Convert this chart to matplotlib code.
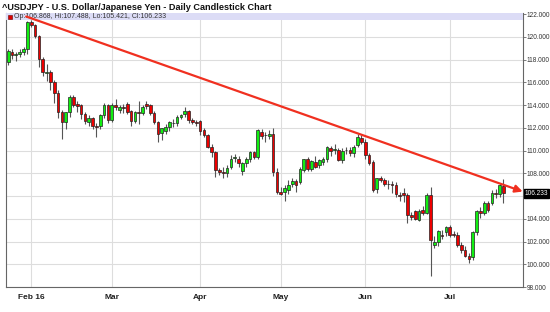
import numpy as np
import pandas as pd
import matplotlib
matplotlib.use('Agg')
import matplotlib.pyplot as plt
from matplotlib.patches import Rectangle
import matplotlib.transforms as mtransforms

plt.rcParams['font.family'] = ['Liberation Sans', 'DejaVu Sans']

# trading days shown on the chart
dates = pd.bdate_range('2016-01-22', '2016-07-21')

opens = [117.8, 118.7, 118.4, 118.5, 118.65, 118.9, 121.3, 121.05, 120.1, 118.1,
         116.8, 116.9, 116.0, 115.1, 113.4, 112.5, 113.4, 114.7, 114.1, 114.0,
         113.2, 112.5, 112.9, 112.2, 112.2, 113.1, 114.0, 112.7, 114.0, 113.6,
         113.8, 114.1, 113.5, 112.6, 113.4, 113.3, 114.1, 114.0, 113.3, 112.5,
         111.55, 111.7, 112.1, 112.45, 112.4, 113.0, 113.2, 113.5, 112.7, 112.5,
         112.6, 111.8, 111.4, 110.3, 109.9, 108.3, 108.1, 108.05, 108.6, 109.35,
         109.3, 108.2, 108.9, 109.3, 109.9, 109.4, 111.6, 111.35, 111.3, 111.45,
         108.1, 106.4, 106.4, 106.5, 107.05, 107.3, 107.25, 108.3, 109.3, 108.4,
         109.0, 108.7, 109.0, 109.3, 110.2, 110.1, 110.1, 109.2, 110.05, 110.1,
         109.75, 110.5, 111.15, 110.8, 109.6, 109.0, 106.6, 107.55, 107.4, 107.1,
         107.1, 107.0, 106.1, 106.3, 106.1, 104.3, 104.7, 103.9, 104.8, 104.5,
         106.1, 101.7, 102.0, 102.6, 102.85, 103.25, 102.65, 102.6, 101.7, 101.25,
         100.7, 100.6, 102.8, 104.7, 104.5, 105.35, 105.4, 106.25, 106.2, 106.868]
highs = [118.9, 118.9, 118.7, 118.9, 119.1, 121.4, 121.5, 121.1, 120.2, 118.2,
         117.6, 117.1, 116.2, 115.3, 113.6, 113.4, 114.9, 114.9, 114.4, 114.1,
         113.4, 113.1, 113.0, 112.4, 113.2, 114.2, 114.1, 114.2, 114.5, 114.0,
         114.1, 114.3, 113.6, 113.5, 114.4, 114.0, 114.4, 114.1, 113.5, 112.6,
         112.0, 112.3, 112.6, 112.8, 113.1, 113.2, 113.8, 113.6, 112.9, 112.7,
         112.7, 112.0, 111.5, 110.6, 110.0, 108.5, 108.6, 108.7, 109.6, 109.7,
         109.5, 109.0, 109.4, 110.0, 110.0, 111.9, 111.9, 111.6, 111.8, 111.95,
         108.5, 106.8, 107.0, 107.4, 107.6, 107.5, 108.6, 109.3, 109.4, 109.2,
         109.5, 109.3, 109.4, 110.4, 110.4, 110.6, 110.2, 110.2, 110.3, 110.3,
         110.5, 111.5, 111.4, 111.0, 109.8, 109.2, 107.6, 107.8, 107.6, 107.4,
         107.3, 107.2, 106.4, 106.7, 106.3, 104.6, 104.8, 104.9, 105.1, 106.3,
         106.8, 102.5, 103.0, 103.0, 103.4, 103.5, 102.9, 102.8, 102.0, 101.6,
         101.0, 102.9, 104.8, 105.0, 105.6, 105.6, 106.5, 106.6, 107.1, 107.488]
lows = [117.5, 118.1, 117.9, 118.2, 118.4, 118.5, 120.9, 119.9, 117.4, 116.6,
        116.1, 115.3, 114.2, 112.9, 111.0, 111.9, 113.0, 113.8, 113.4, 112.8,
        112.3, 112.2, 111.9, 111.2, 111.9, 112.9, 112.4, 112.5, 113.6, 113.3,
        113.3, 113.2, 112.2, 112.4, 112.3, 113.1, 113.7, 113.1, 112.3, 110.8,
        110.9, 111.5, 111.7, 112.1, 112.2, 112.8, 113.0, 112.4, 112.3, 112.2,
        111.4, 111.2, 110.2, 109.4, 107.7, 107.9, 107.6, 107.7, 108.4, 109.0,
        108.6, 107.9, 108.6, 109.0, 109.3, 109.3, 111.0, 110.8, 111.0, 107.8,
        106.2, 106.1, 105.6, 106.2, 106.8, 106.4, 107.1, 108.1, 108.2, 108.2,
        108.5, 108.5, 108.7, 109.0, 109.5, 109.7, 109.1, 108.9, 109.7, 109.5,
        109.4, 110.3, 110.6, 109.3, 108.7, 106.4, 106.3, 107.2, 106.9, 106.6,
        106.3, 105.9, 105.6, 105.5, 103.6, 103.9, 103.9, 103.8, 104.3, 104.4,
        99.0, 101.4, 101.6, 102.2, 102.5, 102.4, 102.4, 101.5, 101.0, 100.6,
        100.1, 100.4, 102.6, 104.1, 104.3, 104.6, 105.2, 105.8, 105.9, 105.421]
closes = [118.8, 118.4, 118.5, 118.65, 118.9, 121.3, 121.05, 120.1, 118.1, 116.9,
          116.95, 116.0, 115.1, 113.4, 112.5, 113.4, 114.7, 114.0, 113.95, 113.2,
          112.6, 112.9, 112.2, 112.1, 113.1, 114.0, 112.7, 114.0, 113.8, 113.85,
          113.75, 113.4, 112.6, 113.4, 113.3, 113.85, 113.9, 113.3, 112.5, 111.5,
          111.95, 112.1, 112.5, 112.4, 113.0, 113.1, 113.5, 112.7, 112.5, 112.45,
          111.7, 111.4, 110.3, 109.9, 108.3, 108.1, 108.05, 108.5, 109.3, 109.4,
          108.9, 108.9, 109.3, 109.9, 109.4, 111.8, 111.3, 111.4, 111.5, 108.1,
          106.4, 106.2, 106.7, 107.0, 107.3, 107.0, 108.35, 109.3, 108.4, 109.1,
          108.6, 109.15, 109.3, 110.3, 110.0, 110.1, 109.2, 110.0, 110.1, 109.8,
          110.3, 111.2, 110.8, 109.6, 108.9, 106.5, 107.55, 107.4, 107.05, 107.05,
          107.0, 106.2, 106.0, 106.1, 104.3, 104.2, 104.0, 104.7, 104.5, 106.1,
          102.1, 102.0, 102.9, 102.5, 103.25, 102.6, 102.6, 101.7, 101.25, 100.7,
          100.5, 102.8, 104.7, 104.5, 105.4, 104.8, 106.3, 106.2, 107.0, 106.233]

month_labels = ['Feb 16', 'Mar', 'Apr', 'May', 'Jun', 'Jul']
month_starts = ['2016-02-01', '2016-03-01', '2016-04-01', '2016-05-02', '2016-06-01', '2016-07-01']
price_ticks = [98, 100, 102, 104, 106, 108, 110, 112, 114, 116, 118, 120, 122]

# hand drawn resistance line (start / end, in trading-day index and price)
trend_x = [4.7, 134.0]
trend_y = [121.8, 106.4]

df = pd.DataFrame({'Open': opens, 'High': highs, 'Low': lows, 'Close': closes}, index=dates)
x = np.arange(len(df))
last_close = closes[-1]

fig = plt.figure(figsize=(5.5, 3.12), dpi=100)
ax = fig.add_axes([0.011, 0.08, 0.940, 0.878])

up = df['Close'] >= df['Open']
ax.vlines(x, df['Low'], df['High'], color='#555555', lw=0.8, zorder=2)
body_bottom = np.minimum(df['Open'], df['Close'])
body_h = np.maximum(np.abs(df['Close'] - df['Open']), 0.04)
colors = np.where(up, '#11ee11', '#ee0000')
ax.bar(x, body_h, bottom=body_bottom, width=0.7, color=colors,
       edgecolor='#222222', linewidth=0.5, zorder=3)

ax.set_xlim(-0.55, 134.1)
ax.set_ylim(98, 122.1)

# grid; the label under the last-price box is hidden
ax.set_yticks(price_ticks)
ax.set_yticklabels(['' if abs(v - last_close) < 1 else '%.3f' % v for v in price_ticks])
tick_pos = [df.index.get_loc(pd.Timestamp(d)) for d in month_starts]
ax.set_xticks(tick_pos)
ax.set_xticklabels(month_labels, fontweight='bold')
ax.grid(True, color='#dddddd', lw=0.8, zorder=0)
ax.set_axisbelow(True)

ax.yaxis.tick_right()
ax.tick_params(axis='y', length=2, width=0.6, color='#666666', labelsize=4.7,
               labelcolor='#333333', pad=0.6)
ax.tick_params(axis='x', length=0, labelsize=6, labelcolor='#222222', pad=5)
for s in ax.spines.values():
    s.set_color('#666666')
    s.set_linewidth(0.8)
ax.spines['top'].set_visible(False)

# header band with last OHLC
ax.add_patch(Rectangle((0, 0.974), 1, 0.026, transform=ax.transAxes,
                       facecolor='#dcdcf6', edgecolor='none', zorder=4))
ax.plot([0.007], [0.987], marker='s', ms=3.5, color='#dd0000', mec='#660000', mew=0.4,
        transform=ax.transAxes, zorder=5)
ax.text(0.016, 0.987, 'Op:%.3f, Hi:%.3f, Lo:%.3f, Cl:%.3f' % (opens[-1], highs[-1], lows[-1], closes[-1]),
        transform=ax.transAxes, fontsize=5, color='#333333', va='center', ha='left', zorder=5)

# trend line with arrow
ax.annotate('', xy=(trend_x[1], trend_y[1]), xytext=(trend_x[0], trend_y[0]),
            arrowprops=dict(arrowstyle='-|>', color='#f03020', lw=1.6, mutation_scale=11,
                            shrinkA=0, shrinkB=0),
            zorder=6, annotation_clip=False)

# last price box
trans = mtransforms.blended_transform_factory(ax.transAxes, ax.transData)
ax.text(1.003, last_close, '%.3f' % last_close, transform=trans, fontsize=4.7,
        color='white', va='center', ha='left',
        bbox=dict(boxstyle='square,pad=0.12', fc='black', ec='black'), zorder=7)

fig.text(0.004, 0.977, '^USDJPY - U.S. Dollar/Japanese Yen - Daily Candlestick Chart',
         fontsize=6.6, fontweight='bold', color='#111111', va='center', ha='left')

plt.savefig('out.png', dpi=100)
